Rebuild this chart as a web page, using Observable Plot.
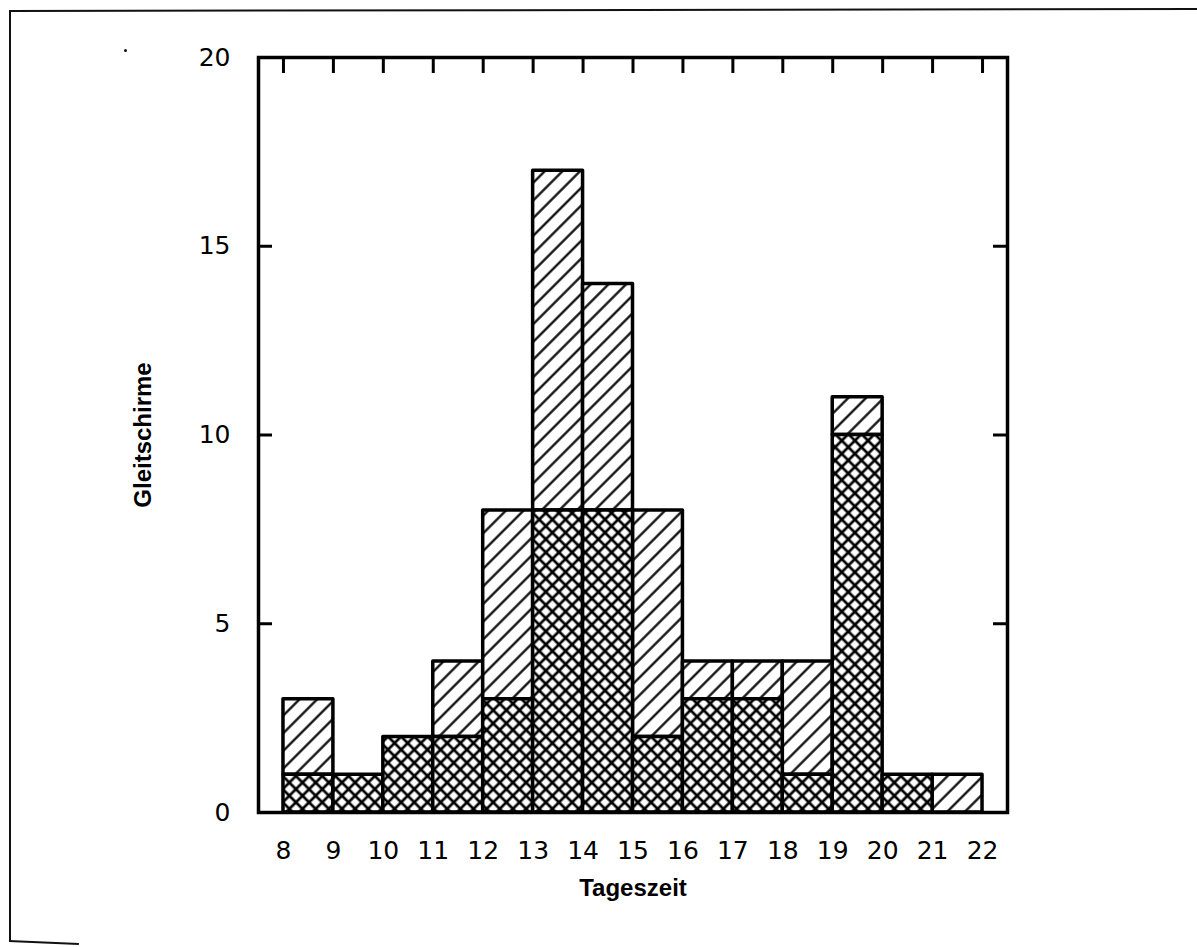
<!DOCTYPE html>
<html><head><meta charset="utf-8">
<script src="https://cdn.jsdelivr.net/npm/d3@7"></script>
<script src="https://cdn.jsdelivr.net/npm/@observablehq/plot@0.6"></script>
<style>
body{margin:0;background:#fff;}
#wrap{position:relative;width:1197px;height:947px;overflow:hidden;background:#fff;}
.edge{position:absolute;background:#111;}
</style></head><body><div id="wrap"></div>
<script>
// Hour bins (start hour of each one-hour interval)
const hours = [8, 9, 10, 11, 12, 13, 14, 15, 16, 17, 18, 19, 20, 21];
// Cross-hatched (lower) part of each bar
const crossVals = [1, 1, 2, 2, 3, 8, 8, 2, 3, 3, 1, 10, 1, 0];
// Total height of each bar (top of diagonal-hatched part)
const totalVals = [3, 1, 2, 4, 8, 17, 14, 8, 4, 4, 4, 11, 1, 1];
// Tick labels
const xTicks = [8, 9, 10, 11, 12, 13, 14, 15, 16, 17, 18, 19, 20, 21, 22];
const yTicks = [0, 5, 10, 15, 20];
const innerYTicks = [5, 10, 15];
const xTitle = "Tageszeit";
const yTitle = "Gleitschirme";

const crossRows = hours.map((h, i) => ({x1: h, x2: h + 1, y1: 0, y2: crossVals[i]})).filter(d => d.y2 > 0);
const topRows = hours.map((h, i) => ({x1: h, x2: h + 1, y1: crossVals[i], y2: totalVals[i]})).filter(d => d.y2 > d.y1);

const mL = 258, mR = 190, mT = 57, mB = 135, W = 1197, H = 947;
const frameW = W - mL - mR, frameH = H - mT - mB;
const tickFont = "'DejaVu Sans', Verdana, sans-serif";

const plot = Plot.plot({
  width: W, height: H,
  marginLeft: mL, marginRight: mR, marginTop: mT, marginBottom: mB,
  style: {fontFamily: "'Liberation Sans', Arial, sans-serif", background: "white", color: "black"},
  x: {domain: [7.5, 22.5]},
  y: {domain: [0, 20]},
  marks: [
    Plot.rectY(topRows, {x1: "x1", x2: "x2", y1: "y1", y2: "y2", fill: "url(#diag)", stroke: "black", strokeWidth: 3.5, strokeLinejoin: "round"}),
    Plot.rectY(crossRows, {x1: "x1", x2: "x2", y1: "y1", y2: "y2", fill: "url(#cross)", stroke: "black", strokeWidth: 3.5, strokeLinejoin: "round"}),
    Plot.tickX(xTicks, {x: d => d, insetBottom: frameH - 16, stroke: "black", strokeWidth: 3}),
    Plot.tickY(innerYTicks, {y: d => d, insetRight: frameW - 14, stroke: "black", strokeWidth: 3}),
    Plot.tickY(innerYTicks, {y: d => d, insetLeft: frameW - 14, stroke: "black", strokeWidth: 3}),
    Plot.frame({stroke: "black", strokeWidth: 3.5}),
    Plot.axisX(xTicks, {anchor: "bottom", tickSize: 0, tickPadding: 29, fontSize: 25, fontFamily: tickFont, label: null}),
    Plot.axisY(yTicks, {anchor: "left", tickSize: 0, tickPadding: 28, fontSize: 25, fontFamily: tickFont, label: null}),
    Plot.text([xTitle], {text: d => d, frameAnchor: "bottom", dy: 76, lineAnchor: "middle", fontSize: 24, fontWeight: "bold"}),
    Plot.text([yTitle], {text: d => d, frameAnchor: "left", dx: -115, rotate: -90, textAnchor: "middle", lineAnchor: "middle", fontSize: 24, fontWeight: "bold"})
  ]
});

const defs = d3.select(plot).insert("defs", ":first-child");
const ds = 12.5;
const diag = defs.append("pattern").attr("id", "diag").attr("patternUnits", "userSpaceOnUse")
  .attr("width", ds).attr("height", ds).attr("patternTransform", "rotate(45)");
diag.append("rect").attr("width", ds).attr("height", ds).attr("fill", "white");
diag.append("line").attr("x1", ds / 2).attr("x2", ds / 2).attr("y1", -1).attr("y2", ds + 1)
  .attr("stroke", "black").attr("stroke-width", 2.2);
const cs = 9.3;
const cross = defs.append("pattern").attr("id", "cross").attr("patternUnits", "userSpaceOnUse")
  .attr("width", cs).attr("height", cs).attr("patternTransform", "rotate(45)");
cross.append("rect").attr("width", cs).attr("height", cs).attr("fill", "white");
cross.append("line").attr("x1", cs / 2).attr("x2", cs / 2).attr("y1", -1).attr("y2", cs + 1)
  .attr("stroke", "black").attr("stroke-width", 2.7);
cross.append("line").attr("y1", cs / 2).attr("y2", cs / 2).attr("x1", -1).attr("x2", cs + 1)
  .attr("stroke", "black").attr("stroke-width", 2.7);

const wrap = document.getElementById("wrap");
wrap.appendChild(plot);
function edge(l, t, w, h, extra) {
  const d = document.createElement("div");
  d.className = "edge";
  d.style.left = l + "px"; d.style.top = t + "px";
  d.style.width = w + "px"; d.style.height = h + "px";
  if (extra) Object.assign(d.style, extra);
  wrap.appendChild(d);
}
edge(9, 10, 1190, 2, {transform: "rotate(-0.1deg)", transformOrigin: "0 0"});
edge(9, 10, 2, 932);
edge(9, 940, 70, 2, {transform: "rotate(2.5deg)", transformOrigin: "0 0"});
edge(124, 49, 3, 3, {borderRadius: "50%"});
</script></body></html>
